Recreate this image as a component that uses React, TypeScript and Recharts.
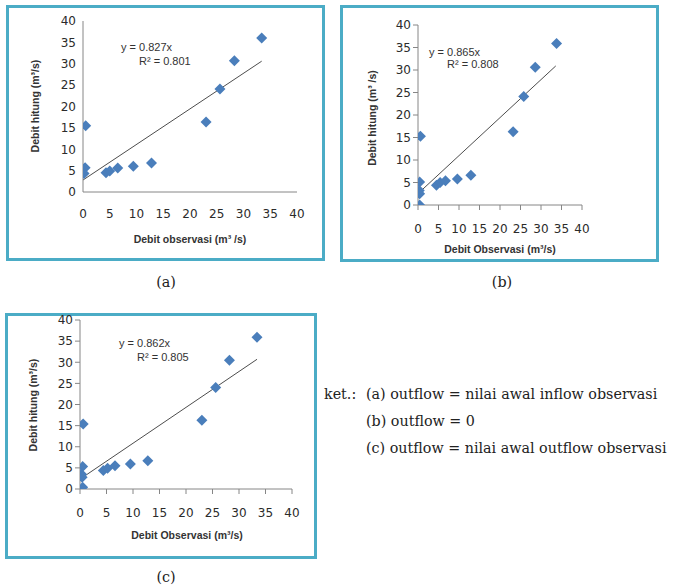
import React from "react";
import {
  ScatterChart,
  Scatter,
  XAxis,
  YAxis,
  ReferenceLine,
} from "recharts";

// values (m3/s)
const axisTicks = [0, 5, 10, 15, 20, 25, 30, 35, 40];

const obsA = [0.5, 0.4, 0.2, 4.3, 5.0, 6.5, 9.4, 12.8, 23.0, 25.6, 28.3, 33.4];
const calcA = [15.5, 5.7, 4.3, 4.5, 4.9, 5.6, 6.0, 6.8, 16.4, 24.1, 30.7, 36.0];
const trendA = [
  [0, 2.8],
  [33.4, 30.6],
];

const obsB = [0.6, 0.4, 0.3, 0.4, 0.4, 4.5, 5.4, 6.7, 9.6, 12.9, 23.2, 25.8, 28.6, 33.8];
const calcB = [15.3, 5.1, 3.2, 2.5, 0, 4.4, 5.0, 5.4, 5.8, 6.6, 16.3, 24.1, 30.6, 35.9];
const trendB = [
  [0.2, 2.7],
  [33.6, 30.9],
];

const obsC = [0.6, 0.5, 0.3, 0.4, 0.5, 4.4, 5.2, 6.6, 9.5, 12.8, 23.0, 25.6, 28.2, 33.4];
const calcC = [15.4, 5.3, 3.5, 2.8, 0.4, 4.4, 4.9, 5.5, 5.9, 6.7, 16.3, 24.0, 30.5, 35.9];
const trendC = [
  [0.2, 2.5],
  [33.4, 30.7],
];

const ketLines = [
  "(a) outflow = nilai awal inflow observasi",
  "(b) outflow = 0",
  "(c) outflow = nilai awal outflow observasi",
];

const BLUE = "#4A7EBB";
const TEAL = "#4BACC6";
const AXIS = "#868686";
const TEXT = "#333333";

const Diamond = (props: any) => {
  const { cx, cy } = props;
  const r = 5.5;
  return (
    <polygon
      points={`${cx},${cy - r} ${cx + r},${cy} ${cx},${cy + r} ${cx - r},${cy}`}
      fill={BLUE}
    />
  );
};

type PanelProps = {
  obs: number[];
  calc: number[];
  trend: number[][];
  box: { left: number; top: number; width: number; height: number };
  plot: { x0: number; x40: number; y40: number; y0: number };
  tickLines: boolean;
  xTickMargin: number;
  eq: { text: string; x: number; y: number }[];
  yTitle: { text: string; x: number; y: number };
  xTitle: { text: string; x: number; y: number };
};

function Panel({
  obs,
  calc,
  trend,
  box,
  plot,
  tickLines,
  xTickMargin,
  eq,
  yTitle,
  xTitle,
}: PanelProps) {
  const data = obs.map((x, i) => ({ x, y: calc[i] }));
  const w = plot.x40 - plot.x0;
  const h = plot.y0 - plot.y40;
  const tickStyle = { fontSize: 12, fill: "#2b2b2b", fontFamily: "DejaVu Sans" };

  return (
    <>
      <div
        style={{
          position: "absolute",
          left: box.left,
          top: box.top,
          width: box.width,
          height: box.height,
          border: `3px solid ${TEAL}`,
          boxSizing: "border-box",
        }}
      />
      <div
        style={{
          position: "absolute",
          left: plot.x0 - 50,
          top: plot.y40 - 10,
        }}
      >
        <ScatterChart
          width={w + 60}
          height={h + 50}
          margin={{ top: 10, right: 10, left: 0, bottom: 0 }}
        >
          <XAxis
            type="number"
            dataKey="x"
            domain={[0, 40]}
            ticks={axisTicks}
            allowDataOverflow
            height={40}
            stroke={AXIS}
            tickLine={tickLines}
            tickSize={5}
            tickMargin={xTickMargin}
            tick={tickStyle}
            interval={0}
          />
          <YAxis
            type="number"
            dataKey="y"
            domain={[0, 40]}
            ticks={axisTicks}
            allowDataOverflow
            width={50}
            stroke={AXIS}
            tickLine={tickLines}
            tickSize={5}
            tickMargin={2}
            tick={tickStyle}
            interval={0}
          />
          <ReferenceLine
            segment={trend.map(([x, y]) => ({ x, y }))}
            stroke="#4d4d4d"
            strokeWidth={1}
            ifOverflow="visible"
          />
          <Scatter data={data} shape={Diamond} isAnimationActive={false} />
        </ScatterChart>
      </div>
      {eq.map((e) => (
        <div
          key={e.text}
          style={{
            position: "absolute",
            left: e.x,
            top: e.y,
            transform: "translateY(-50%)",
            fontFamily: "Liberation Sans",
            fontSize: 11,
            color: TEXT,
            whiteSpace: "nowrap",
          }}
        >
          {e.text}
        </div>
      ))}
      <div
        style={{
          position: "absolute",
          left: yTitle.x,
          top: yTitle.y,
          transform: "translate(-50%, -50%) rotate(-90deg)",
          fontFamily: "Liberation Sans",
          fontWeight: "bold",
          fontSize: 10.5,
          color: TEXT,
          whiteSpace: "nowrap",
        }}
      >
        {yTitle.text}
      </div>
      <div
        style={{
          position: "absolute",
          left: xTitle.x,
          top: xTitle.y,
          transform: "translate(-50%, -50%)",
          fontFamily: "Liberation Sans",
          fontWeight: "bold",
          fontSize: 10.5,
          color: TEXT,
          whiteSpace: "nowrap",
        }}
      >
        {xTitle.text}
      </div>
    </>
  );
}

const serif = {
  position: "absolute" as const,
  fontFamily: "DejaVu Serif",
  fontSize: 14.3,
  color: "#222",
  whiteSpace: "nowrap" as const,
  lineHeight: "16px",
};

export default function App() {
  return (
    <div
      style={{
        position: "absolute",
        left: 0,
        top: 0,
        width: 675,
        height: 587,
        background: "#fff",
        overflow: "hidden",
      }}
    >
      <Panel
        obs={obsA}
        calc={calcA}
        trend={trendA}
        box={{ left: 6, top: 5, width: 319, height: 256 }}
        plot={{ x0: 83, x40: 297, y40: 21, y0: 192 }}
        tickLines={false}
        xTickMargin={12}
        eq={[
          { text: "y = 0.827x", x: 121, y: 47 },
          { text: "R² = 0.801", x: 139, y: 61 },
        ]}
        yTitle={{ text: "Debit hitung (m³/s)", x: 35, y: 106 }}
        xTitle={{ text: "Debit observasi (m³ /s)", x: 190, y: 239 }}
      />
      <Panel
        obs={obsB}
        calc={calcB}
        trend={trendB}
        box={{ left: 340, top: 5, width: 319, height: 257 }}
        plot={{ x0: 418, x40: 582, y40: 25, y0: 205 }}
        tickLines={true}
        xTickMargin={14}
        eq={[
          { text: "y = 0.865x", x: 429, y: 52 },
          { text: "R² = 0.808", x: 447, y: 64 },
        ]}
        yTitle={{ text: "Debit hitung (m³ /s)", x: 372, y: 118 }}
        xTitle={{ text: "Debit Observasi (m³/s)", x: 500, y: 249 }}
      />
      <Panel
        obs={obsC}
        calc={calcC}
        trend={trendC}
        box={{ left: 5, top: 313, width: 312, height: 246 }}
        plot={{ x0: 80, x40: 292, y40: 320, y0: 489 }}
        tickLines={true}
        xTickMargin={14}
        eq={[
          { text: "y = 0.862x", x: 119, y: 343 },
          { text: "R² = 0.805", x: 137, y: 357 },
        ]}
        yTitle={{ text: "Debit hitung (m³/s)", x: 33, y: 405 }}
        xTitle={{ text: "Debit Observasi (m³/s)", x: 187, y: 535 }}
      />

      <div style={{ ...serif, left: 166, top: 282, transform: "translate(-50%, -50%)" }}>(a)</div>
      <div style={{ ...serif, left: 502, top: 282, transform: "translate(-50%, -50%)" }}>(b)</div>
      <div style={{ ...serif, left: 166, top: 577, transform: "translate(-50%, -50%)" }}>(c)</div>

      <div style={{ ...serif, left: 324, top: 386 }}>ket.:</div>
      {ketLines.map((t, i) => (
        <div key={t} style={{ ...serif, left: 366, top: 386 + i * 27 }}>
          {t}
        </div>
      ))}
    </div>
  );
}
